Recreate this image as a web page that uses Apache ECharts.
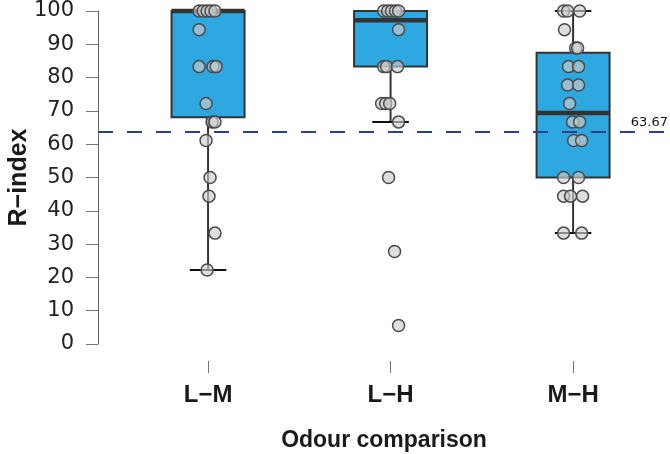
<!DOCTYPE html>
<html>
<head>
<meta charset="utf-8">
<script src="https://cdn.jsdelivr.net/npm/echarts@6/dist/echarts.min.js"></script>
<style>html,body{margin:0;padding:0;background:#fff}#c{width:670px;height:454px}</style>
</head>
<body>
<div id="c"></div>
<script>
// ---- data ----
const categories = ['L\u2212M', 'L\u2212H', 'M\u2212H'];
const boxLow    = [22.2, 66.7, 33.3];
const boxQ1     = [68.1, 83.3, 50.0];
const boxMedian = [100, 97.2, 69.4];
const boxQ3     = [100, 100, 87.5];
const boxHigh   = [100, 100, 100];
const refValue  = 63.67;
const yTicks    = [0, 10, 20, 30, 40, 50, 60, 70, 80, 90, 100];

const lmValues = [100, 100, 100, 100, 100, 94.4, 83.3, 83.3, 83.3, 72.2, 66.7, 66.7, 61.1, 50, 44.4, 33.3, 22.2];
const lmJitter = [-0.049, -0.027, -0.005, 0.016, 0.038, -0.049, -0.049, 0.027, 0.044, -0.011, 0.022, 0.038, -0.011, 0.011, 0.005, 0.038, -0.005];

const lhValues = [100, 100, 100, 100, 100, 94.4, 83.3, 83.3, 83.3, 72.2, 72.2, 72.2, 66.7, 50, 27.8, 5.56];
const lhJitter = [-0.038, -0.016, 0.005, 0.027, 0.044, 0.044, -0.038, -0.022, 0.038, -0.049, -0.027, -0.005, 0.044, -0.011, 0.022, 0.044];

const mhValues = [100, 100, 100, 94.4, 88.9, 88.9, 83.3, 83.3, 77.8, 77.8, 72.2, 66.7, 66.7, 61.1, 61.1, 50, 50, 44.4, 44.4, 44.4, 33.3, 33.3];
const mhJitter = [-0.052, -0.030, 0.036, -0.047, 0.014, 0.025, -0.025, 0.030, -0.030, 0.030, -0.019, -0.003, 0.036, 0.003, 0.047, -0.052, 0.030, -0.052, -0.014, 0.052, -0.052, 0.047];

// ---- build ----
const groups = [[lmValues, lmJitter], [lhValues, lhJitter], [mhValues, mhJitter]];
const pointData = [];
groups.forEach((g, i) => g[0].forEach((v, k) => pointData.push([i + g[1][k], v])));
const boxData = categories.map((c, i) => [i, boxLow[i], boxQ1[i], boxMedian[i], boxQ3[i], boxHigh[i]]);

const BOX_W = 0.4, CAP_W = 0.2;
function renderBox(params, api) {
  const x = api.value(0);
  const lo = api.coord([x, api.value(1)]);
  const q1 = api.coord([x, api.value(2)]);
  const md = api.coord([x, api.value(3)]);
  const q3 = api.coord([x, api.value(4)]);
  const hi = api.coord([x, api.value(5)]);
  const bw = api.size([BOX_W, 0])[0];
  const cw = api.size([CAP_W, 0])[0];
  const cx = lo[0];
  const children = [];
  const lineStyle = {stroke: '#333', lineWidth: 2};
  if (q1[1] < lo[1] - 0.5) {
    children.push({type: 'line', shape: {x1: cx, y1: q1[1], x2: cx, y2: lo[1]}, style: lineStyle});
    children.push({type: 'line', shape: {x1: cx - cw / 2, y1: lo[1], x2: cx + cw / 2, y2: lo[1]}, style: {stroke: '#111', lineWidth: 2}});
  }
  if (q3[1] > hi[1] + 0.5) {
    children.push({type: 'line', shape: {x1: cx, y1: q3[1], x2: cx, y2: hi[1]}, style: lineStyle});
    children.push({type: 'line', shape: {x1: cx - cw / 2, y1: hi[1], x2: cx + cw / 2, y2: hi[1]}, style: {stroke: '#111', lineWidth: 2}});
  }
  children.push({type: 'rect', shape: {x: cx - bw / 2, y: q3[1], width: bw, height: q1[1] - q3[1]},
    style: {fill: '#2ea8e0', stroke: '#333', lineWidth: 2}});
  children.push({type: 'line', shape: {x1: cx - bw / 2, y1: md[1], x2: cx + bw / 2, y2: md[1]}, style: {stroke: '#333', lineWidth: 4.5}});
  return {type: 'group', children: children};
}

const chart = echarts.init(document.getElementById('c'), null, {renderer: 'canvas'});
chart.setOption({
  animation: false,
  grid: {left: 98, right: 0, top: 11, bottom: 110, containLabel: false, outerBoundsMode: 'none'},
  xAxis: {
    type: 'value', min: -0.603, max: 2.531, offset: 17,
    splitLine: {show: false},
    axisLine: {show: false, onZero: false},
    axisTick: {show: true, length: 12, customValues: [0, 1, 2], lineStyle: {color: '#777', width: 1}},
    axisLabel: {customValues: [0, 1, 2], margin: 22, formatter: v => categories[Math.round(v)] || '',
      fontFamily: 'Liberation Sans', fontWeight: 'bold', fontSize: 24, color: '#1a1a1a'},
    name: 'Odour comparison', nameLocation: 'middle', nameGap: 68, nameMoveOverlap: false,
    nameTextStyle: {fontFamily: 'Liberation Sans', fontWeight: 'bold', fontSize: 23, color: '#1a1a1a'}
  },
  yAxis: {
    type: 'value', min: yTicks[0], max: yTicks[yTicks.length - 1], interval: 10,
    splitLine: {show: false},
    axisLine: {show: true, onZero: false, lineStyle: {color: '#666', width: 1}},
    axisTick: {show: true, length: 12, lineStyle: {color: '#777', width: 1}},
    axisLabel: {margin: 24, fontFamily: 'DejaVu Sans', fontSize: 21, color: '#222'},
    name: 'R\u2212index', nameLocation: 'middle', nameGap: 66, nameRotate: 90, nameMoveOverlap: false,
    nameTextStyle: {fontFamily: 'Liberation Sans', fontWeight: 'bold', fontSize: 25, color: '#1a1a1a'}
  },
  series: [
    {
      type: 'custom', renderItem: renderBox, data: boxData, z: 2,
      encode: {x: 0, y: [1, 2, 3, 4, 5]},
      markLine: {
        silent: true, symbol: 'none', z: 3,
        lineStyle: {color: '#2b3f8f', type: [15, 14], width: 2},
        label: {show: true, position: 'insideEndTop', formatter: String(refValue),
          fontFamily: 'DejaVu Sans', fontSize: 13, color: '#111', distance: [2, 3]},
        data: [{yAxis: refValue}]
      }
    },
    {
      type: 'scatter', data: pointData, z: 5, symbol: 'circle', symbolSize: 12,
      itemStyle: {color: 'rgba(205,205,205,0.65)', borderColor: '#4a4a4a', borderWidth: 1.5, opacity: 1}
    }
  ]
});
</script>
</body>
</html>
